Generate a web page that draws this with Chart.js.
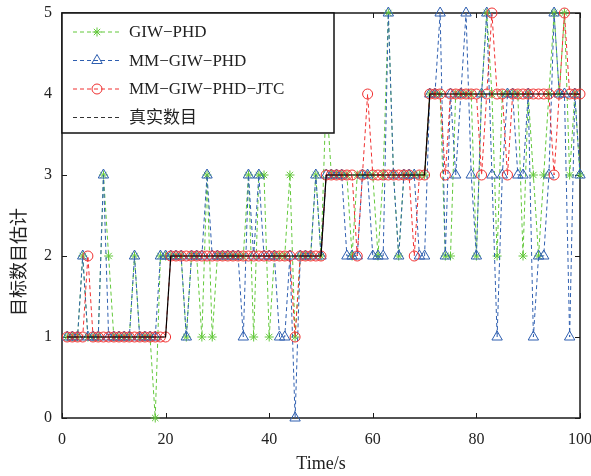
<!DOCTYPE html>
<html>
<head>
<meta charset="utf-8">
<script src="https://cdn.jsdelivr.net/npm/chart.js@4.4.0/dist/chart.umd.min.js"></script>
<style>
  html, body { margin: 0; padding: 0; background: #fff; }
</style>
</head>
<body>
<canvas id="myChart" width="591" height="476"></canvas>
<script>
const times = [
  1, 2, 3, 4, 5, 6, 7, 8, 9, 10, 11, 12, 13, 14, 15, 16, 17, 18, 19, 20,
  21, 22, 23, 24, 25, 26, 27, 28, 29, 30, 31, 32, 33, 34, 35, 36, 37, 38, 39, 40,
  41, 42, 43, 44, 45, 46, 47, 48, 49, 50, 51, 52, 53, 54, 55, 56, 57, 58, 59, 60,
  61, 62, 63, 64, 65, 66, 67, 68, 69, 70, 71, 72, 73, 74, 75, 76, 77, 78, 79, 80,
  81, 82, 83, 84, 85, 86, 87, 88, 89, 90, 91, 92, 93, 94, 95, 96, 97, 98, 99, 100
];
const trueCount = [
  1, 1, 1, 1, 1, 1, 1, 1, 1, 1, 1, 1, 1, 1, 1, 1, 1, 1, 1, 1,
  2, 2, 2, 2, 2, 2, 2, 2, 2, 2, 2, 2, 2, 2, 2, 2, 2, 2, 2, 2,
  2, 2, 2, 2, 2, 2, 2, 2, 2, 2, 3, 3, 3, 3, 3, 3, 3, 3, 3, 3,
  3, 3, 3, 3, 3, 3, 3, 3, 3, 3, 4, 4, 4, 4, 4, 4, 4, 4, 4, 4,
  4, 4, 4, 4, 4, 4, 4, 4, 4, 4, 4, 4, 4, 4, 4, 4, 4, 4, 4, 4
];
const giwPhd = [
  1, 1, 1, 2, 1, 1, 1, 3, 2, 1, 1, 1, 1, 2, 1, 1, 1, 0, 2, 2,
  2, 2, 2, 1, 2, 2, 1, 3, 1, 2, 2, 2, 2, 2, 2, 3, 1, 3, 3, 1,
  2, 2, 2, 3, 1, 2, 2, 2, 3, 2, 4, 3, 3, 3, 3, 2, 3, 3, 3, 3,
  2, 3, 5, 3, 2, 3, 3, 3, 3, 3, 4, 4, 4, 2, 2, 4, 4, 4, 4, 2,
  4, 5, 4, 2, 4, 4, 4, 4, 2, 4, 3, 2, 3, 4, 5, 4, 5, 3, 4, 3
];
const mmGiwPhd = [
  1, 1, 1, 2, 1, 1, 1, 3, 1, 1, 1, 1, 1, 2, 1, 1, 1, 1, 2, 2,
  2, 2, 2, 1, 2, 2, 2, 3, 2, 2, 2, 2, 2, 2, 1, 3, 2, 3, 2, 2,
  2, 1, 1, 2, 0, 2, 2, 2, 3, 2, 3, 3, 3, 3, 2, 2, 2, 3, 3, 2,
  2, 2, 5, 3, 2, 3, 3, 3, 2, 2, 4, 4, 5, 2, 4, 3, 4, 5, 3, 2,
  4, 5, 3, 1, 3, 4, 4, 3, 3, 4, 1, 2, 2, 3, 5, 4, 4, 1, 4, 3
];
const mmGiwPhdJtc = [
  1, 1, 1, 1, 2, 1, 1, 1, 1, 1, 1, 1, 1, 1, 1, 1, 1, 1, 1, 1,
  2, 2, 2, 2, 2, 2, 2, 2, 2, 2, 2, 2, 2, 2, 2, 2, 2, 2, 2, 2,
  2, 2, 2, 2, 1, 2, 2, 2, 2, 2, 3, 3, 3, 3, 3, 3, 2, 3, 4, 3,
  3, 3, 3, 3, 3, 3, 3, 2, 3, 3, 4, 4, 4, 3, 4, 4, 4, 4, 4, 4,
  3, 4, 5, 4, 4, 3, 4, 4, 4, 4, 4, 4, 4, 4, 3, 4, 5, 4, 4, 4
];
const xTicks = [0, 20, 40, 60, 80, 100];
const yTicks = [0, 1, 2, 3, 4, 5];
const seriesNames = ['GIW\u2212PHD', 'MM\u2212GIW\u2212PHD', 'MM\u2212GIW\u2212PHD\u2212JTC', '真实数目'];
const yTitle = '目标数目估计';

const GREEN = '#62c83a';
const BLUE = '#2f5fb0';
const RED = '#f03030';
const SERIF = "'Liberation Serif', 'Noto Sans CJK SC', serif";

function pts(arr) {
  return times.map((t, i) => ({ x: t, y: arr[i] }));
}

// axes box with inward ticks, like matlab
const frame = {
  id: 'frame',
  beforeDatasetsDraw(chart) {
    const { ctx, chartArea: a, scales } = chart;
    ctx.save();
    ctx.strokeStyle = '#1a1a1a';
    ctx.lineWidth = 1;
    ctx.beginPath();
    xTicks.forEach(v => {
      const px = Math.round(scales.x.getPixelForValue(v)) + 0.5;
      ctx.moveTo(px, a.bottom); ctx.lineTo(px, a.bottom - 5);
      ctx.moveTo(px, a.top); ctx.lineTo(px, a.top + 5);
    });
    yTicks.forEach(v => {
      const py = Math.round(scales.y.getPixelForValue(v)) + 0.5;
      ctx.moveTo(a.left, py); ctx.lineTo(a.left + 5, py);
      ctx.moveTo(a.right, py); ctx.lineTo(a.right - 5, py);
    });
    ctx.stroke();
    ctx.lineWidth = 1.5;
    ctx.strokeRect(a.left, a.top, a.right - a.left, a.bottom - a.top);
    // y label, sits a bit below the axis middle in the original
    ctx.fillStyle = '#222';
    ctx.font = '18px ' + SERIF;
    ctx.textAlign = 'center';
    ctx.textBaseline = 'middle';
    ctx.translate(20, 262);
    ctx.rotate(-Math.PI / 2);
    ctx.fillText(yTitle, 0, 0);
    ctx.restore();
  }
};

const boxLegend = {
  id: 'boxLegend',
  afterDatasetsDraw(chart) {
    const { ctx, chartArea: a } = chart;
    const x0 = a.left, y0 = a.top, w = 272, h = 120;
    ctx.save();
    ctx.fillStyle = '#fff';
    ctx.fillRect(x0, y0, w, h);
    ctx.strokeStyle = '#111';
    ctx.lineWidth = 1.5;
    ctx.strokeRect(x0, y0, w, h);
    const legendOrder = [3, 2, 1, 0];
    legendOrder.forEach((di, row) => {
      const ds = chart.data.datasets[di];
      const y = y0 + 19 + row * 28.5;
      ctx.setLineDash([4, 3]);
      ctx.lineWidth = 1;
      ctx.strokeStyle = di === 0 ? '#333' : ds.borderColor;
      ctx.beginPath();
      ctx.moveTo(x0 + 11, y); ctx.lineTo(x0 + 59, y);
      ctx.stroke();
      ctx.setLineDash([]);
      if (ds.pointRadius > 0) {
        ctx.strokeStyle = ds.pointBorderColor;
        ctx.fillStyle = 'rgba(0,0,0,0)';
        ctx.lineWidth = 1;
        Chart.helpers.drawPoint(ctx, {
          pointStyle: ds.pointStyle, radius: ds.pointRadius, rotation: 0, borderWidth: 1
        }, x0 + 35, y);
      }
      ctx.fillStyle = '#222';
      ctx.font = '17px ' + SERIF;
      ctx.textBaseline = 'middle';
      ctx.fillText(ds.label, x0 + 67, y + 1);
    });
    ctx.restore();
  }
};

new Chart(document.getElementById('myChart'), {
  type: 'line',
  data: {
    datasets: [
      {
        label: seriesNames[3], data: pts(trueCount), order: 0,
        borderColor: '#000', borderWidth: 1.2, pointRadius: 0, clip: false
      },
      {
        label: seriesNames[2], data: pts(mmGiwPhdJtc), order: 1,
        borderColor: RED, borderWidth: 1, borderDash: [4, 3],
        pointStyle: 'circle', pointRadius: 5, pointBorderColor: RED,
        pointBackgroundColor: 'rgba(0,0,0,0)', pointBorderWidth: 1, clip: false
      },
      {
        label: seriesNames[1], data: pts(mmGiwPhd), order: 2,
        borderColor: BLUE, borderWidth: 1, borderDash: [4, 3],
        pointStyle: 'triangle', pointRadius: 6, pointBorderColor: BLUE,
        pointBackgroundColor: 'rgba(0,0,0,0)', pointBorderWidth: 1, clip: false
      },
      {
        label: seriesNames[0], data: pts(giwPhd), order: 3,
        borderColor: GREEN, borderWidth: 1, borderDash: [4, 3],
        pointStyle: 'star', pointRadius: 4.5, pointBorderColor: GREEN,
        pointBackgroundColor: 'rgba(0,0,0,0)', pointBorderWidth: 1, clip: false
      }
    ]
  },
  options: {
    responsive: false,
    animation: false,
    devicePixelRatio: 1,
    layout: { padding: { top: 13, right: 11, left: 0, bottom: 0 } },
    elements: { line: { tension: 0 } },
    plugins: {
      legend: { display: false },
      tooltip: { enabled: false }
    },
    scales: {
      x: {
        type: 'linear', min: 0, max: 100,
        grid: { display: false, drawTicks: false },
        border: { display: false },
        afterBuildTicks: s => { s.ticks = xTicks.map(v => ({ value: v })); },
        afterFit: s => { s.height = 58; s.paddingLeft = 0; s.paddingRight = 0; },
        ticks: { color: '#222', padding: 12, font: { family: SERIF, size: 16 } },
        title: {
          display: true, text: 'Time/s', color: '#222', padding: { top: 0, bottom: 1 },
          font: { family: SERIF, size: 18 }
        }
      },
      y: {
        min: 0, max: 5,
        grid: { display: false, drawTicks: false },
        border: { display: false },
        afterBuildTicks: s => { s.ticks = yTicks.map(v => ({ value: v })); },
        afterFit: s => { s.width = 62; s.paddingTop = 0; s.paddingBottom = 0; },
        ticks: { color: '#222', padding: 10, font: { family: SERIF, size: 16 } }
      }
    }
  },
  plugins: [frame, boxLegend]
});
</script>
</body>
</html>
